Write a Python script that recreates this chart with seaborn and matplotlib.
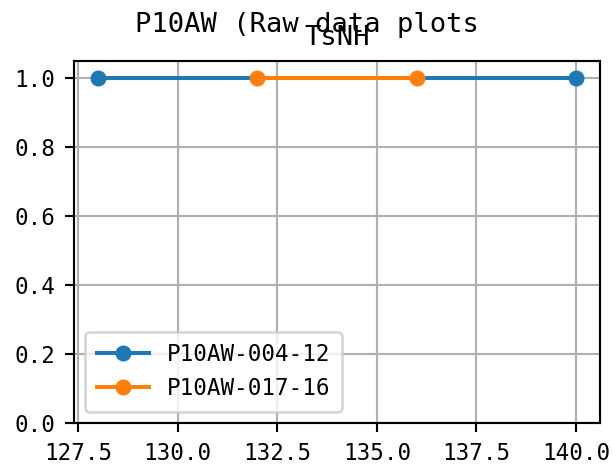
import matplotlib
matplotlib.use('Agg')
import matplotlib.pyplot as plt
from matplotlib.ticker import MultipleLocator, FormatStrFormatter
import seaborn as sns
import pandas as pd

# values
sample_a = 'P10AW-004-12'
sample_b = 'P10AW-017-16'
x_a = [128.0, 140.0]
y_a = [1.0, 1.0]
x_b = [132.0, 136.0]
y_b = [1.0, 1.0]

fig_title = 'P10AW (Raw data plots'
ax_title = 'TsNH'

data = pd.DataFrame({
    'x': x_a + x_b,
    'y': y_a + y_b,
    'sample': [sample_a] * len(x_a) + [sample_b] * len(x_b),
})

plt.rcParams['font.family'] = ['DejaVu Sans Mono', 'Noto Sans CJK SC']
plt.rcParams['font.size'] = 8.5

dpi = 192
fig = plt.figure(figsize=(613 / dpi, 465 / dpi), dpi=dpi)
ax = fig.add_axes([74 / 613, 1 - 423 / 465, (600 - 74) / 613, (423 - 61) / 465])

sns.lineplot(data=data, x='x', y='y', hue='sample',
             palette=['#1f77b4', '#ff7f0e'], marker='o', markersize=6,
             markeredgewidth=0, linewidth=1.5, ax=ax, sort=True)

ax.set_ylim(0, 1.05)
ax.xaxis.set_major_locator(MultipleLocator(2.5))
ax.xaxis.set_major_formatter(FormatStrFormatter('%.1f'))
ax.set_xlabel('')
ax.set_ylabel('')
ax.grid(True, color='#b0b0b0', linewidth=0.8)
ax.set_title(ax_title, fontsize=10.2)
fig.suptitle(fig_title, fontsize=10.2, y=0.975)
ax.legend(loc='lower left', handlelength=2.3, borderpad=0.5)

fig.savefig('out.png', dpi=dpi)
